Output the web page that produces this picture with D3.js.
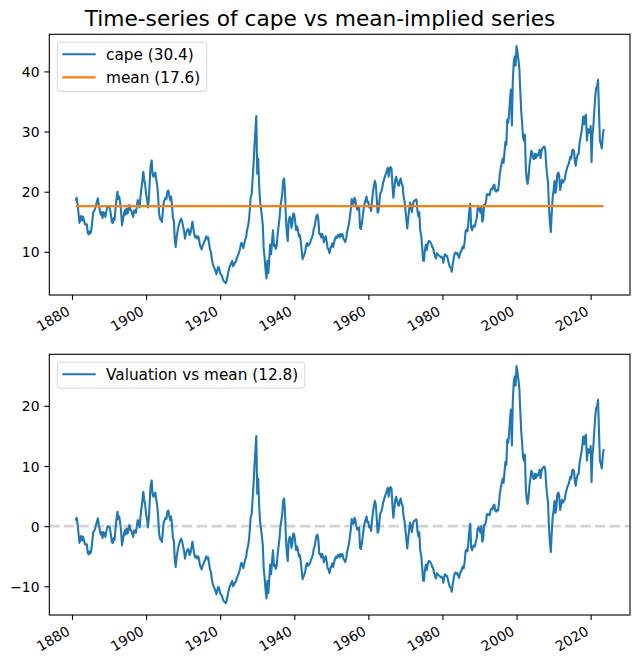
<!DOCTYPE html>
<html><head><meta charset="utf-8">
<script src="https://cdn.jsdelivr.net/npm/d3@7"></script>
<style>
body{margin:0;background:#fff}
svg{display:block}
text{font-family:"DejaVu Sans",sans-serif;fill:#000}
</style>
</head><body>
<svg id="chart" width="640" height="667"></svg>
<script>
// ---------------- data ----------------
const titleText = "Time-series of cape vs mean-implied series";
const startYear = 1881;      // first observation
const stepYears = 0.25;      // quarterly readings
const cape1881_1920 = [
 18.5,19.0,18.0,16.5, 14.8,15.4,16.0,15.2, 15.8,15.2,14.6,14.5, 14.6,13.2,12.9,13.4, 13.1,13.8,15.2,16.6,
 16.8,17.2,17.8,18.4, 18.9,17.8,17.0,16.2, 16.6,15.6,16.6,16.4, 15.8,16.6,17.4,17.6, 17.5,17.2,16.2,15.0,
 14.8,15.6,15.3,17.2, 18.6,20.0,18.8,19.2, 18.2,16.8,14.4,15.4, 16.2,16.9,16.2,17.2, 16.4,17.0,17.8,17.0,
 16.8,16.4,15.8,16.8, 16.9,16.5,17.6,18.6, 18.2,17.4,19.2,20.6, 21.8,23.3,22.0,21.2, 19.6,18.8,17.4,18.9,
 21.8,24.5,25.2,23.0, 22.5,22.8,23.2,22.0, 21.0,19.2,16.5,15.5, 15.4,15.0,16.4,18.2, 18.6,19.0,18.8,20.0,
 20.2,19.4,18.6,19.2, 17.8,15.6,15.2,12.0, 10.8,12.4,13.5,14.2, 14.8,15.2,15.5,15.0, 14.2,13.5,12.2,13.0,
 13.4,13.8,13.6,12.8, 13.2,14.0,15.0,14.0, 13.0,12.4,12.6,12.2, 12.6,12.3,11.2,10.8, 10.4,11.0,11.3,11.8,
 12.0,12.6,12.2,12.4, 11.4,10.4,10.0,8.8, 8.0,7.6,7.2,6.8, 6.3,7.0,7.5,7.2, 6.4,6.2,6.0,5.4
];
const cape1921_1960 = [
 5.1,5.0,4.8,5.2, 6.0,6.8,7.4,7.8, 8.2,8.5,7.6,7.9, 8.2,8.4,9.0,9.3, 9.8,10.2,11.0,11.5,
 11.2,10.6,11.4,12.0, 12.4,13.6,14.2,15.2, 17.0,19.2,19.5,22.0, 24.5,27.5,30.0,32.6, 23.0,25.5,21.4,18.5,
 17.2,16.0,14.5,10.5, 9.0,7.0,5.6,8.5, 6.5,8.8,11.2,9.6, 11.8,13.6,11.0,11.2, 10.5,11.0,12.8,14.2,
 15.5,17.5,18.5,19.5, 21.8,22.2,20.0,15.5, 13.0,11.8,15.2,15.8, 15.6,14.0,15.0,16.4, 16.2,15.0,13.6,14.2,
 13.6,12.6,12.8,11.8, 10.2,8.8,9.2,9.6, 10.2,11.2,11.5,11.0, 11.2,11.4,12.0,12.3, 12.8,13.8,14.2,15.2,
 16.0,16.2,15.4,13.0, 13.0,12.4,13.0,12.5, 11.6,12.3,12.6,11.7, 10.6,10.4,9.8,10.6, 10.9,11.4,10.8,11.6,
 12.2,12.5,12.3,12.8, 12.8,12.4,13.0,12.6, 12.9,12.2,12.0,11.6, 12.2,13.2,14.0,14.6, 15.8,17.0,18.8,18.0,
 18.0,19.0,18.6,17.6, 17.0,17.3,17.4,14.0, 13.8,14.8,16.0,17.2, 18.2,18.6,19.2,18.2, 18.3,17.4,17.6,16.8
];
const cape1961_2000 = [
 18.6,20.0,21.0,21.8, 21.2,19.0,16.5,16.8, 18.5,19.8,20.0,20.6, 21.6,22.0,22.6,23.0, 23.5,24.0,22.5,23.8,
 24.1,23.8,21.0,19.0, 20.5,22.0,22.5,21.9, 21.2,21.0,21.8,22.2, 21.3,21.0,19.2,18.5, 17.0,15.5,13.9,15.5,
 17.0,18.2,17.6,16.6, 17.8,18.4,18.5,18.7, 18.7,16.8,15.9,16.6, 13.6,12.8,11.0,8.6, 8.5,10.3,11.2,10.3,
 11.2,11.8,11.8,11.6, 11.3,10.8,10.6,9.8, 9.3,8.9,9.8,9.6, 9.4,9.3,9.1,9.2, 9.0,8.2,9.3,9.6,
 9.3,9.3,8.7,8.0, 7.5,7.4,6.7,7.8, 8.8,9.6,9.9,9.7, 9.8,9.3,9.0,9.8, 10.0,10.5,10.9,10.6,
 11.7,13.5,13.7,13.4, 15.0,16.8,18.0,14.0, 13.6,14.2,14.4,14.2, 15.0,15.6,17.2,17.4, 17.1,16.5,17.6,15.0,
 15.6,17.8,17.9,18.3, 19.6,19.5,19.6,19.4, 20.3,20.5,20.4,21.0, 21.2,20.2,20.0,20.3, 20.2,21.4,23.0,24.0,
 24.8,25.5,24.8,26.6, 28.3,27.8,32.0,31.5, 32.9,35.5,37.0,31.0, 38.5,41.5,42.5,41.0, 44.2,43.2,42.0,40.6
];
const cape2001_2023 = [
 36.8,33.5,31.5,29.0, 28.5,29.5,24.0,22.0, 21.3,22.5,24.5,25.5, 26.8,26.5,25.6,25.4, 26.3,25.6,26.2,26.0,
 26.4,27.0,25.6,26.8, 27.2,27.4,27.5,27.0, 24.5,22.8,21.5,17.4, 15.0,13.3,16.5,19.0, 20.2,21.8,19.8,20.8,
 22.8,23.2,22.8,20.3, 21.0,22.0,21.5,21.8, 22.0,23.0,23.6,24.2, 24.5,25.0,25.8,25.5, 26.8,27.0,26.8,25.0,
 24.3,25.6,26.2,26.3, 28.0,29.0,29.8,31.0, 32.5,31.2,32.5,32.8, 28.5,30.4,29.8,30.0, 30.9,24.9,29.5,31.0,
 33.5,35.8,37.3,37.5, 38.6,33.5,28.5,28.0, 27.2,29.0,30.4
];
const meanValue = 17.6;
const xTickValues = [1880, 1900, 1920, 1940, 1960, 1980, 2000, 2020];
const yTicksTop = [10, 20, 30, 40];
const yTicksBottom = [-10, 0, 10, 20];

// ---------------- derived ----------------
const cape = [].concat(cape1881_1920, cape1921_1960, cape1961_2000, cape2001_2023);
const dates = cape.map((_, i) => startYear + i * stepYears);
const valuation = cape.map(v => v - meanValue);
const capeSeries = dates.map((d, i) => ({x: d, y: cape[i]}));
const meanSeries = dates.map(d => ({x: d, y: meanValue}));
const valSeries = dates.map((d, i) => ({x: d, y: valuation[i]}));

const BLUE = "#1f77b4", ORANGE = "#ff7f0e";
const FS = 13.9;      // tick labels
const LFS = 15.3;     // legend labels
const LW = 2.1;
const svg = d3.select("#chart");

svg.append("text").attr("x", 320).attr("y", 26).attr("text-anchor", "middle")
  .style("font-size", "21.7px").text(titleText);

function pad(ext) { const r = ext[1] - ext[0]; return [ext[0] - 0.05 * r, ext[1] + 0.05 * r]; }

const xDomain = pad(d3.extent(dates));
const left = 49.3, right = 630;

function panel(top, bottom, yDomain, yTicks, series, legendItems, hline) {
  const x = d3.scaleLinear().domain(xDomain).range([left, right]);
  const y = d3.scaleLinear().domain(yDomain).range([bottom, top]);
  const g = svg.append("g");
  if (hline !== undefined) {
    g.append("line").attr("x1", left).attr("x2", right)
      .attr("y1", y(hline)).attr("y2", y(hline))
      .attr("stroke", "#d3d3d3").attr("stroke-width", 2.78)
      .attr("stroke-dasharray", "10.3,4.45");
  }
  const line = d3.line().x(d => x(d.x)).y(d => y(d.y));
  series.forEach(s => {
    g.append("path").datum(s.data).attr("d", line).attr("fill", "none")
      .attr("stroke", s.color).attr("stroke-width", LW)
      .attr("stroke-linejoin", "round").attr("stroke-linecap", "butt");
  });
  // axes
  const xAxis = d3.axisBottom(x).tickValues(xTickValues).tickFormat(d3.format("d"))
    .tickSize(4.9).tickPadding(0);
  const gx = g.append("g").attr("transform", `translate(0,${bottom})`).call(xAxis);
  gx.select(".domain").remove();
  gx.selectAll(".tick line").attr("stroke", "#000").attr("stroke-width", 1.1);
  gx.selectAll(".tick text").attr("y", 0).attr("dy", null)
    .attr("text-anchor", "end").style("font-size", FS + "px")
    .attr("transform", "translate(-1.6,19)rotate(-30)");
  const yAxis = d3.axisLeft(y).tickValues(yTicks).tickFormat(d3.format("d"))
    .tickSize(4.9).tickPadding(4.9);
  const gy = g.append("g").attr("transform", `translate(${left},0)`).call(yAxis);
  gy.select(".domain").remove();
  gy.selectAll(".tick line").attr("stroke", "#000").attr("stroke-width", 1.1);
  gy.selectAll(".tick text").attr("dy", "0.36em").style("font-size", FS + "px");
  // frame
  g.append("rect").attr("x", left).attr("y", top).attr("width", right - left)
    .attr("height", bottom - top).attr("fill", "none").attr("stroke", "#000")
    .attr("stroke-width", 1.1);
  // legend
  const lg = g.append("g");
  const bx = 57.3, by = top + 7.9;
  const rowH = 23.2;
  const box = lg.append("rect").attr("x", bx).attr("y", by).attr("rx", 3).attr("ry", 3)
    .attr("fill", "#fff").attr("fill-opacity", 0.8)
    .attr("stroke", "#d6d6d6").attr("stroke-width", 1);
  let maxEnd = 0;
  legendItems.forEach((it, i) => {
    const cy = by + 12 + i * rowH;
    lg.append("line").attr("x1", 62.3).attr("x2", 95.7).attr("y1", cy).attr("y2", cy)
      .attr("stroke", it.color).attr("stroke-width", LW);
    const t = lg.append("text").attr("x", 106).attr("y", cy).attr("dy", "0.36em")
      .style("font-size", LFS + "px").text(it.label);
    maxEnd = Math.max(maxEnd, 106 + t.node().getComputedTextLength());
  });
  box.attr("width", maxEnd + 6.5 - bx).attr("height", 26 + (legendItems.length - 1) * rowH);
}

const lastCape = cape[cape.length - 1];
const lastVal = valuation[valuation.length - 1];

panel(34.3, 295, pad([d3.min(cape), d3.max(cape)]), yTicksTop,
  [{data: capeSeries, color: BLUE}, {data: meanSeries, color: ORANGE}],
  [{label: `cape (${lastCape.toFixed(1)})`, color: BLUE},
   {label: `mean (${meanValue.toFixed(1)})`, color: ORANGE}]);

panel(354.3, 615, pad([d3.min(valuation), d3.max(valuation)]), yTicksBottom,
  [{data: valSeries, color: BLUE}],
  [{label: `Valuation vs mean (${lastVal.toFixed(1)})`, color: BLUE}], 0);
</script>
</body></html>
